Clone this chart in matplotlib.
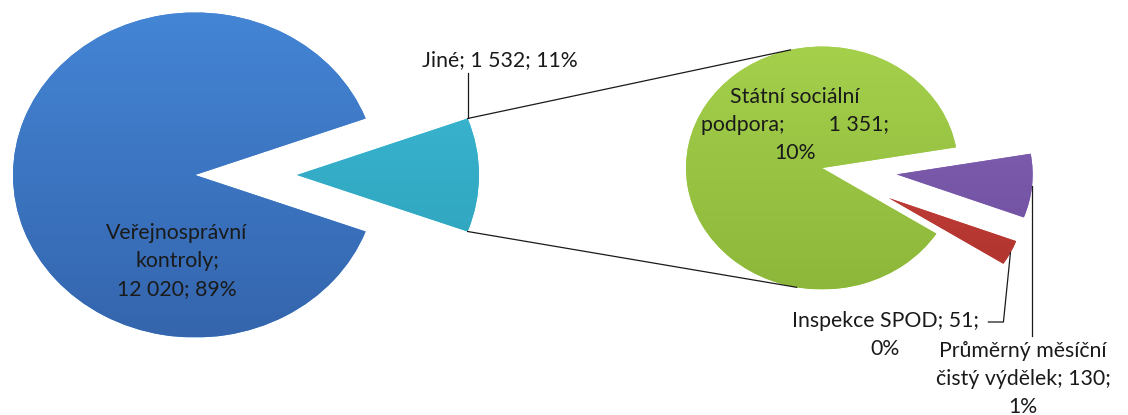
import numpy as np
import matplotlib
matplotlib.use("Agg")
import matplotlib.pyplot as plt
from matplotlib.colors import LinearSegmentedColormap

# ---- data ----
main_labels = ["Jiné", "Veřejnosprávní kontroly"]
main_values = [1532, 12020]
sub_labels = ["Státní sociální podpora", "Inspekce SPOD", "Průměrný měsíční čistý výdělek"]
sub_values = [1351, 51, 130]

# (top colour, bottom colour) for a soft vertical gradient
main_colors = [("#3DBCD8", "#2C9DB6"), ("#4485D5", "#3465AD")]
sub_colors = [("#A5D04C", "#8CB73A"), ("#D2463F", "#A8302C"), ("#8663B7", "#6C4D9C")]

W, H = 1128, 415
S = 1.12  # vertical stretch of the ellipse-like pies


def P(x, y):
    return (x, (H - y) * S)


def fmt(v):
    return f"{v:,}".replace(",", " ")


total = sum(main_values)
pct = lambda v: f"{round(100 * v / total):d}%"

plt.rcParams["font.family"] = ["Lato", "DejaVu Sans"]
fig = plt.figure(figsize=(W / 100, H / 100), dpi=100)
ax = fig.add_axes([0, 0, 1, 1])

# main pie
half = 360 * main_values[0] / total / 2
w_main, _ = ax.pie(main_values, colors=[c[0] for c in main_colors], startangle=-half,
                   explode=[102, 0], center=P(195, 175), radius=182, frame=True,
                   wedgeprops=dict(edgecolor="none"))

# secondary pie
w_sub, _ = ax.pie(sub_values, colors=[c[0] for c in sub_colors], startangle=9.8,
                  explode=[0, 75, 75], center=P(822, 168), radius=136, frame=True,
                  wedgeprops=dict(edgecolor="none"))


def shade(w, cols):
    cx, cy = w.center
    r = w.r
    cmap = LinearSegmentedColormap.from_list("g", [cols[1], cols[0]])
    grad = np.linspace(0, 1, 256).reshape(-1, 1)
    im = ax.imshow(grad, cmap=cmap, origin="lower", aspect="auto",
                   extent=(cx - r, cx + r, cy - r, cy + r), zorder=1.5,
                   interpolation="bilinear")
    im.set_clip_path(w)


for w, c in zip(w_main, main_colors):
    shade(w, c)
for w, c in zip(w_sub, sub_colors):
    shade(w, c)

ax.set_xlim(0, W)
ax.set_ylim(0, H * S)
ax.set_aspect("auto")
ax.axis("off")

tc = "#1a1a1a"

# connectors: from outer corners of the "Jiné" wedge, tangent to the sub pie
cw = w_main[0]
cx, cy = cw.center
gx, gy = w_sub[0].center
R = w_sub[0].r
for th, sign in [(cw.theta2, 1), (cw.theta1, -1)]:
    px = cx + cw.r * np.cos(np.radians(th))
    py = cy + cw.r * np.sin(np.radians(th))
    dx, dy = px - gx, py - gy
    d = np.hypot(dx, dy)
    base = np.arctan2(dy, dx)
    a = base - sign * np.arccos(R / d)
    tx, ty = gx + R * np.cos(a), gy + R * np.sin(a)
    ax.plot([px, tx], [py, ty], color=tc, lw=0.9, zorder=2)

fs = 15.3

# Jiné label with leader
jx = cx + cw.r * np.cos(np.radians(cw.theta2))
jy = cy + cw.r * np.sin(np.radians(cw.theta2))
ax.plot([jx, jx], [jy, P(0, 73)[1]], color=tc, lw=0.9, zorder=2)
ax.text(*P(500, 60), f"{main_labels[0]}; {fmt(main_values[0])}; {pct(main_values[0])}",
        ha="center", va="center", fontsize=fs, color=tc, zorder=3)

# Veřejnosprávní label
ax.text(*P(177, 261), f"Veřejnosprávní\nkontroly;\n{fmt(main_values[1])}; {pct(main_values[1])}",
        ha="center", va="center", fontsize=fs, color=tc, linespacing=1.5, zorder=3)

# Státní sociální podpora label
ax.text(*P(795, 125), f"Státní sociální\npodpora;        {fmt(sub_values[0])};\n{pct(sub_values[0])}",
        ha="center", va="center", fontsize=fs, color=tc, linespacing=1.5, zorder=3)

# Inspekce SPOD label with leader
rw = w_sub[1]
rm = np.radians((rw.theta1 + rw.theta2) / 2)
rx = rw.center[0] + rw.r * np.cos(rm)
ry = rw.center[1] + rw.r * np.sin(rm)
ax.plot([rx, rx - 7, rx - 22], [ry, P(0, 322)[1], P(0, 322)[1]], color=tc, lw=0.9, zorder=2)
ax.text(*P(885, 335), f"{sub_labels[1]}; {fmt(sub_values[1])};\n{pct(sub_values[1])}",
        ha="center", va="center", fontsize=fs, color=tc, linespacing=1.5, zorder=3)

# Průměrný label with leader
pw = w_sub[2]
pm = np.radians((pw.theta1 + pw.theta2) / 2)
ppx = pw.center[0] + pw.r * np.cos(pm)
ppy = pw.center[1] + pw.r * np.sin(pm)
ax.plot([ppx, ppx], [ppy, P(0, 336)[1]], color=tc, lw=0.9, zorder=2)
ax.text(*P(1023, 379), f"Průměrný měsíční\nčistý výdělek; {fmt(sub_values[2])};\n{pct(sub_values[2])}",
        ha="center", va="center", fontsize=fs, color=tc, linespacing=1.5, zorder=3)

fig.savefig("out.png", dpi=100)
